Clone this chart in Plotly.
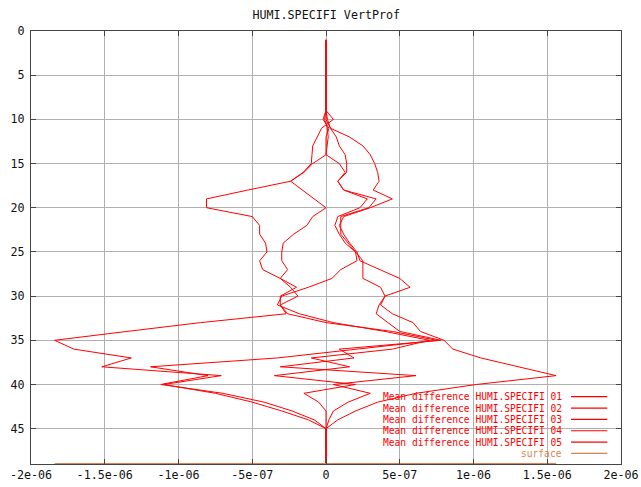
import plotly.graph_objects as go

# Model levels (1 = top, 49 = surface)
levels = list(range(1, 50))

# Mean differences of specific humidity per level, in units of 1e-7
diff_01 = [0]*9 + [0.5, -0.3, -0.6, -0.9, -0.95, -1.0, -1.55, -2.4, -5.3, -8.1, -8.1,
                   -5.0, -4.5, -4.5, -4.1, -4.0, -4.5, -4.3, -3.1, -2.4, -1.9,
                   -3.1, -2.7, -8.5, -13.5, -18.4, -17.1, -13.2, -15.2, -7.1, -11.0,
                   -7.5, -5.0, -3.0, -1.2, 0.0] + [0]*4
diff_02 = [0]*9 + [-0.2, 0.2, 0.0, 0.0, 0.0, -0.9, -1.5, -2.4, -1.6, -0.8, 0.0,
                   -0.9, -1.3, -2.2, -2.9, -3.0, -3.0, -2.6, -3.1, -2.0, -3.1,
                   -3.1, -2.6, 0.0, 4.5, 7.5, 2.0, -3.3, -11.9, -8.0, -11.2,
                   -7.0, -4.2, -2.3, -0.8, 0.0] + [0]*4
diff_03 = [0]*9 + [0.1, 0.3, 1.6, 2.5, 3.0, 3.3, 3.5, 3.6, 3.2, 4.5, 3.0,
                   1.2, 0.9, 1.2, 1.6, 2.1, 2.3, 3.7, 5.0, 5.7, 4.0,
                   3.7, 4.5, 5.9, 6.4, 8.0, 8.6, 10.5, 13.0, 15.6, 10.2,
                   6.1, 3.5, 2.0, 0.8, 0.0] + [0]*4
diff_04 = [0]*9 + [0.0, 0.3, 0.7, 0.9, 1.3, 1.4, 1.4, 0.8, 1.2, 3.4, 2.9,
                   1.0, 1.0, 1.0, 1.5, 2.0, 2.5, 2.5, 2.5, 3.7, 4.0,
                   3.6, 3.4, 4.2, 5.0, 7.8, 0.9, 1.9, -3.1, 6.1, 0.5,
                   3.0, 1.5, 0.5, 0.2, 0.0] + [0]*4
diff_05 = [0]*9 + [-0.1, 0.1, 0.15, 0.1, 0.0, 0.9, 1.3, 0.8, 1.2, 2.8, 2.3,
                   0.8, 0.6, 0.9, 1.3, 2.0, 2.1, 1.0, 0.4, -1.2, -3.0,
                   -3.3, -1.8, 0.5, 4.0, 7.0, 4.5, -1.0, 1.6, -3.5, 2.0,
                   -1.5, -0.5, 0.0, 0.0, 0.0] + [0]*4

series_names = ["Mean difference HUMI.SPECIFI 01", "Mean difference HUMI.SPECIFI 02",
                "Mean difference HUMI.SPECIFI 03", "Mean difference HUMI.SPECIFI 04",
                "Mean difference HUMI.SPECIFI 05"]
series_values = [diff_01, diff_02, diff_03, diff_04, diff_05]
scale = 1e-7

surface_level = 49

x_tickvals = [-2e-6, -1.5e-6, -1e-6, -5e-7, 0, 5e-7, 1e-6, 1.5e-6, 2e-6]
x_ticktext = ["-2e-06", "-1.5e-06", "-1e-06", "-5e-07", "0", "5e-07", "1e-06", "1.5e-06", "2e-06"]
y_tickvals = [0, 5, 10, 15, 20, 25, 30, 35, 40, 45]

RED = "#ff0000"
SURF = "#dc8250"
FONT = "DejaVu Sans Mono"
TXT = 11.7
LEG_TXT = 9.6

fig = go.Figure()

all_vals = []
for name, vals in zip(series_names, series_values):
    xs = [v * scale for v in vals]
    all_vals += xs
    fig.add_trace(go.Scatter(x=xs, y=levels, mode="lines", name=name,
                             line=dict(color=RED, width=1), showlegend=False))

# Surface line spanning the data range
fig.add_trace(go.Scatter(x=[min(all_vals), max(all_vals)], y=[surface_level, surface_level],
                         mode="lines", name="surface",
                         line=dict(color=SURF, width=2), showlegend=False))

# Legend block: right-aligned labels with line samples to the right
legend_entries = list(zip(series_names, [RED]*5)) + [("surface", SURF)]
row_y0 = 0.1554
row_dy = 0.0262
for i, (label, col) in enumerate(legend_entries):
    yy = row_y0 - i * row_dy
    fig.add_annotation(x=0.9012, y=yy, xref="paper", yref="paper", text=label,
                       showarrow=False, xanchor="right", yanchor="middle", borderpad=0,
                       font=dict(family=FONT, size=LEG_TXT, color=col))
    fig.add_shape(type="line", xref="paper", yref="paper", x0=0.9153, x1=0.9768,
                  y0=yy, y1=yy, line=dict(color=col, width=1.2))

axis_common = dict(showline=True, linecolor="#444444", linewidth=1, mirror="ticks",
                   ticks="inside", ticklen=5, tickcolor="#444444", automargin=False,
                   showgrid=True, gridcolor="#b0b0b0", gridwidth=1, zeroline=False,
                   tickfont=dict(family=FONT, size=TXT, color="#111111"))

fig.update_layout(
    width=641, height=487,
    margin=dict(l=31, r=20, t=31, b=23),
    paper_bgcolor="white", plot_bgcolor="white",
    title=dict(text="HUMI.SPECIFI VertProf", x=0.509, xanchor="center", y=0.970, yanchor="middle",
               font=dict(family=FONT, size=TXT, color="#111111")),
    xaxis=dict(range=[-2e-6, 2e-6], tickvals=x_tickvals, ticktext=x_ticktext, **axis_common),
    yaxis=dict(range=[surface_level, 0], tickvals=y_tickvals, ticklabelstandoff=3, **axis_common),
)

fig.write_html("out.html")
